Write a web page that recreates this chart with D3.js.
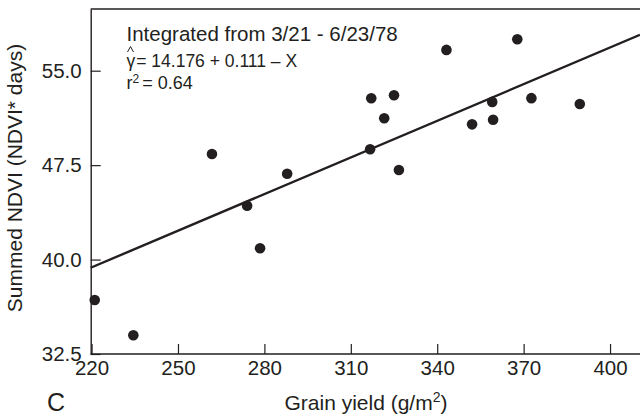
<!DOCTYPE html>
<html>
<head>
<meta charset="utf-8">
<script src="https://cdn.jsdelivr.net/npm/d3@7"></script>
<style>
  html, body { margin: 0; padding: 0; background: #fff; }
  svg { display: block; font-family: "Liberation Sans", Arial, Helvetica, sans-serif; }
</style>
</head>
<body>
<svg id="chart" width="640" height="418"></svg>
<script>
// Data
const grainYield = [221.1, 234.5, 261.8, 274.0, 278.5, 287.9, 317.1, 316.7, 321.6, 325.0, 326.7, 343.2, 352.1, 359.1, 359.4, 367.8, 372.7, 389.5];
const summedNDVI = [36.79, 33.99, 48.39, 44.28, 40.90, 46.82, 52.81, 48.76, 51.22, 53.05, 47.11, 56.65, 50.74, 52.52, 51.11, 57.50, 52.82, 52.36];
const fitX = [219.7, 410.4];
const fitY = [39.35, 57.85];
const xTicks = [220, 250, 280, 310, 340, 370, 400];
const yTicks = [32.5, 40.0, 47.5, 55.0];
const annotation = ["Integrated from 3/21 - 6/23/78", "= 14.176 + 0.111 \u2013 X", "= 0.64"];

const svg = d3.select("#chart");
const W = 640, H = 418;
const mLeft = 90.7, mTop = 9, mBottom = 354, rightEdge = 640;

const x = d3.scaleLinear().domain([219.7, 410.4]).range([mLeft, rightEdge]);
const y = d3.scaleLinear().domain([32.5, 59.9]).range([mBottom, mTop]);

const ink = "#231f20";

// frame top line
svg.append("line")
  .attr("x1", mLeft).attr("x2", W + 2)
  .attr("y1", mTop).attr("y2", mTop)
  .attr("stroke", ink).attr("stroke-width", 1.4);

const xAxis = svg.append("g")
  .attr("transform", `translate(0,${mBottom})`)
  .call(d3.axisBottom(x).tickValues(xTicks).tickSizeInner(-10).tickSizeOuter(0).tickPadding(6).tickFormat(d3.format("d")));
const yAxis = svg.append("g")
  .attr("transform", `translate(${mLeft},0)`)
  .call(d3.axisLeft(y).tickValues(yTicks).tickSizeInner(-10).tickSizeOuter(0).tickPadding(9).tickFormat(d3.format(".1f")));

[xAxis, yAxis].forEach(g => {
  g.select(".domain").attr("stroke", ink).attr("stroke-width", 1.4);
  g.selectAll(".tick line").attr("stroke", ink).attr("stroke-width", 1.2);
  g.selectAll(".tick text").attr("fill", ink).style("font-size", "20.5px").style("font-family", "Liberation Sans, Arial, sans-serif");
});
xAxis.select(".domain").attr("d", `M${mLeft},0H${W + 2}`);

// regression line
svg.append("line")
  .attr("x1", x(fitX[0])).attr("y1", y(fitY[0]))
  .attr("x2", x(fitX[1])).attr("y2", y(fitY[1]))
  .attr("stroke", ink).attr("stroke-width", 2.4);

// points
svg.append("g").selectAll("circle")
  .data(grainYield.map((g, i) => [g, summedNDVI[i]]))
  .join("circle")
  .attr("cx", d => x(d[0]))
  .attr("cy", d => y(d[1]))
  .attr("r", 5.3)
  .attr("fill", ink);

// annotation
const ann = svg.append("g").attr("fill", ink);
ann.append("text").attr("x", 126.5).attr("y", 41).style("font-size", "20.5px").text(annotation[0]);
const l2 = ann.append("text").attr("x", 126.5).attr("y", 67).style("font-size", "17.5px");
l2.append("tspan").text("\u03b3");
l2.append("tspan").attr("dx", 1).text(annotation[1]);
// hat over gamma
ann.append("path")
  .attr("d", "M127.5,52 L130.5,46.5 L133.5,52")
  .attr("fill", "none").attr("stroke", ink).attr("stroke-width", 1);
const l3 = ann.append("text").attr("x", 126.5).attr("y", 88.5).style("font-size", "18px");
l3.append("tspan").text("r");
l3.append("tspan").attr("dy", -6).style("font-size", "12px").text("2");
l3.append("tspan").attr("dy", 6).attr("dx", 3).text(annotation[2]);

// axis titles
const xt = svg.append("text")
  .attr("x", 366).attr("y", 410)
  .attr("text-anchor", "middle")
  .attr("fill", ink).style("font-size", "21px");
xt.append("tspan").text("Grain yield (g/m");
xt.append("tspan").attr("dy", -8).style("font-size", "14px").text("2");
xt.append("tspan").attr("dy", 8).text(")");

svg.append("text")
  .attr("transform", "translate(21.5,178) rotate(-90)")
  .attr("text-anchor", "middle")
  .attr("fill", ink).style("font-size", "21px")
  .text("Summed NDVI (NDVI* days)");

svg.append("text")
  .attr("x", 47).attr("y", 411)
  .attr("fill", ink).style("font-size", "25px")
  .text("C");
</script>
</body>
</html>
